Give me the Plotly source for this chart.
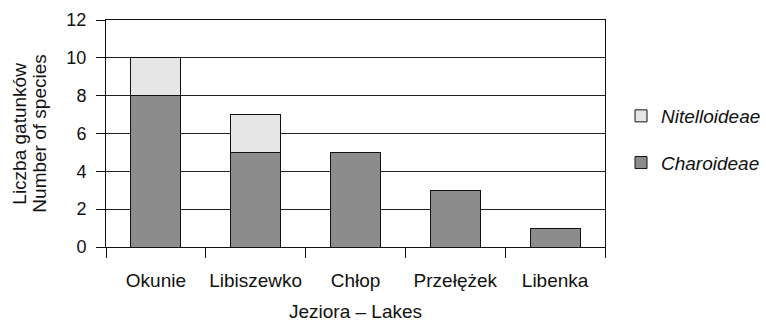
import plotly.graph_objects as go

lakes = ["Okunie", "Libiszewko", "Chłop", "Przełężek", "Libenka"]
charoideae = [8, 5, 5, 3, 1]
nitelloideae = [2, 2, 0, 0, 0]
y_ticks = [0, 2, 4, 6, 8, 10, 12]

FONT = "Liberation Sans, Arial, sans-serif"

fig = go.Figure()
fig.add_trace(go.Bar(
    x=lakes, y=charoideae, name="<i>Charoideae</i>",
    marker=dict(color="#8c8c8c", line=dict(color="#111111", width=1)),
    width=0.5, legendgroup="c", legendrank=2,
))
fig.add_trace(go.Bar(
    x=lakes, y=nitelloideae, name="<i>Nitelloideae</i>",
    marker=dict(color="#e6e6e6", line=dict(color="#111111", width=1)),
    width=0.5, legendgroup="n", legendrank=1,
))

fig.update_layout(
    width=766, height=322,
    margin=dict(l=106, r=161, t=20, b=75),
    barmode="stack",
    plot_bgcolor="white", paper_bgcolor="white",
    font=dict(family=FONT, size=19, color="#111111"),
    showlegend=True,
    legend=dict(
        xref="container", yref="container",
        x=621 / 766, xanchor="left", y=1 - 97 / 322, yanchor="top",
        traceorder="grouped", tracegroupgap=19,
        font=dict(size=19), bgcolor="rgba(0,0,0,0)",
    ),
    xaxis=dict(
        automargin=False,
        showline=True, linecolor="#111111", linewidth=1, mirror=True,
        ticks="outside", tickson="boundaries", ticklen=10, tickcolor="#111111",
        tickfont=dict(size=19), tickangle=0, showgrid=False,
        ticklabelstandoff=16,
    ),
    yaxis=dict(
        automargin=False,
        range=[0, 12], tickvals=y_ticks,
        showline=True, linecolor="#111111", linewidth=1, mirror=True,
        ticks="outside", ticklen=9, tickcolor="#111111",
        tickfont=dict(size=18), ticklabelstandoff=6,
        showgrid=True, gridcolor="#222222", gridwidth=1,
        zeroline=False,
    ),
    annotations=[
        dict(text="Liczba gatunków", textangle=-90, xref="paper", yref="paper",
             x=(19 - 106) / 500, y=0.5, xanchor="center", yanchor="middle",
             showarrow=False, font=dict(size=19)),
        dict(text="Number of species", textangle=-90, xref="paper", yref="paper",
             x=(39 - 106) / 500, y=0.5, xanchor="center", yanchor="middle",
             showarrow=False, font=dict(size=19)),
        dict(text="Jeziora – Lakes", xref="paper", yref="paper",
             x=0.5, y=-(311 - 247) / 227, xanchor="center", yanchor="middle",
             showarrow=False, font=dict(size=19)),
    ],
)

fig.write_html("out.html")
